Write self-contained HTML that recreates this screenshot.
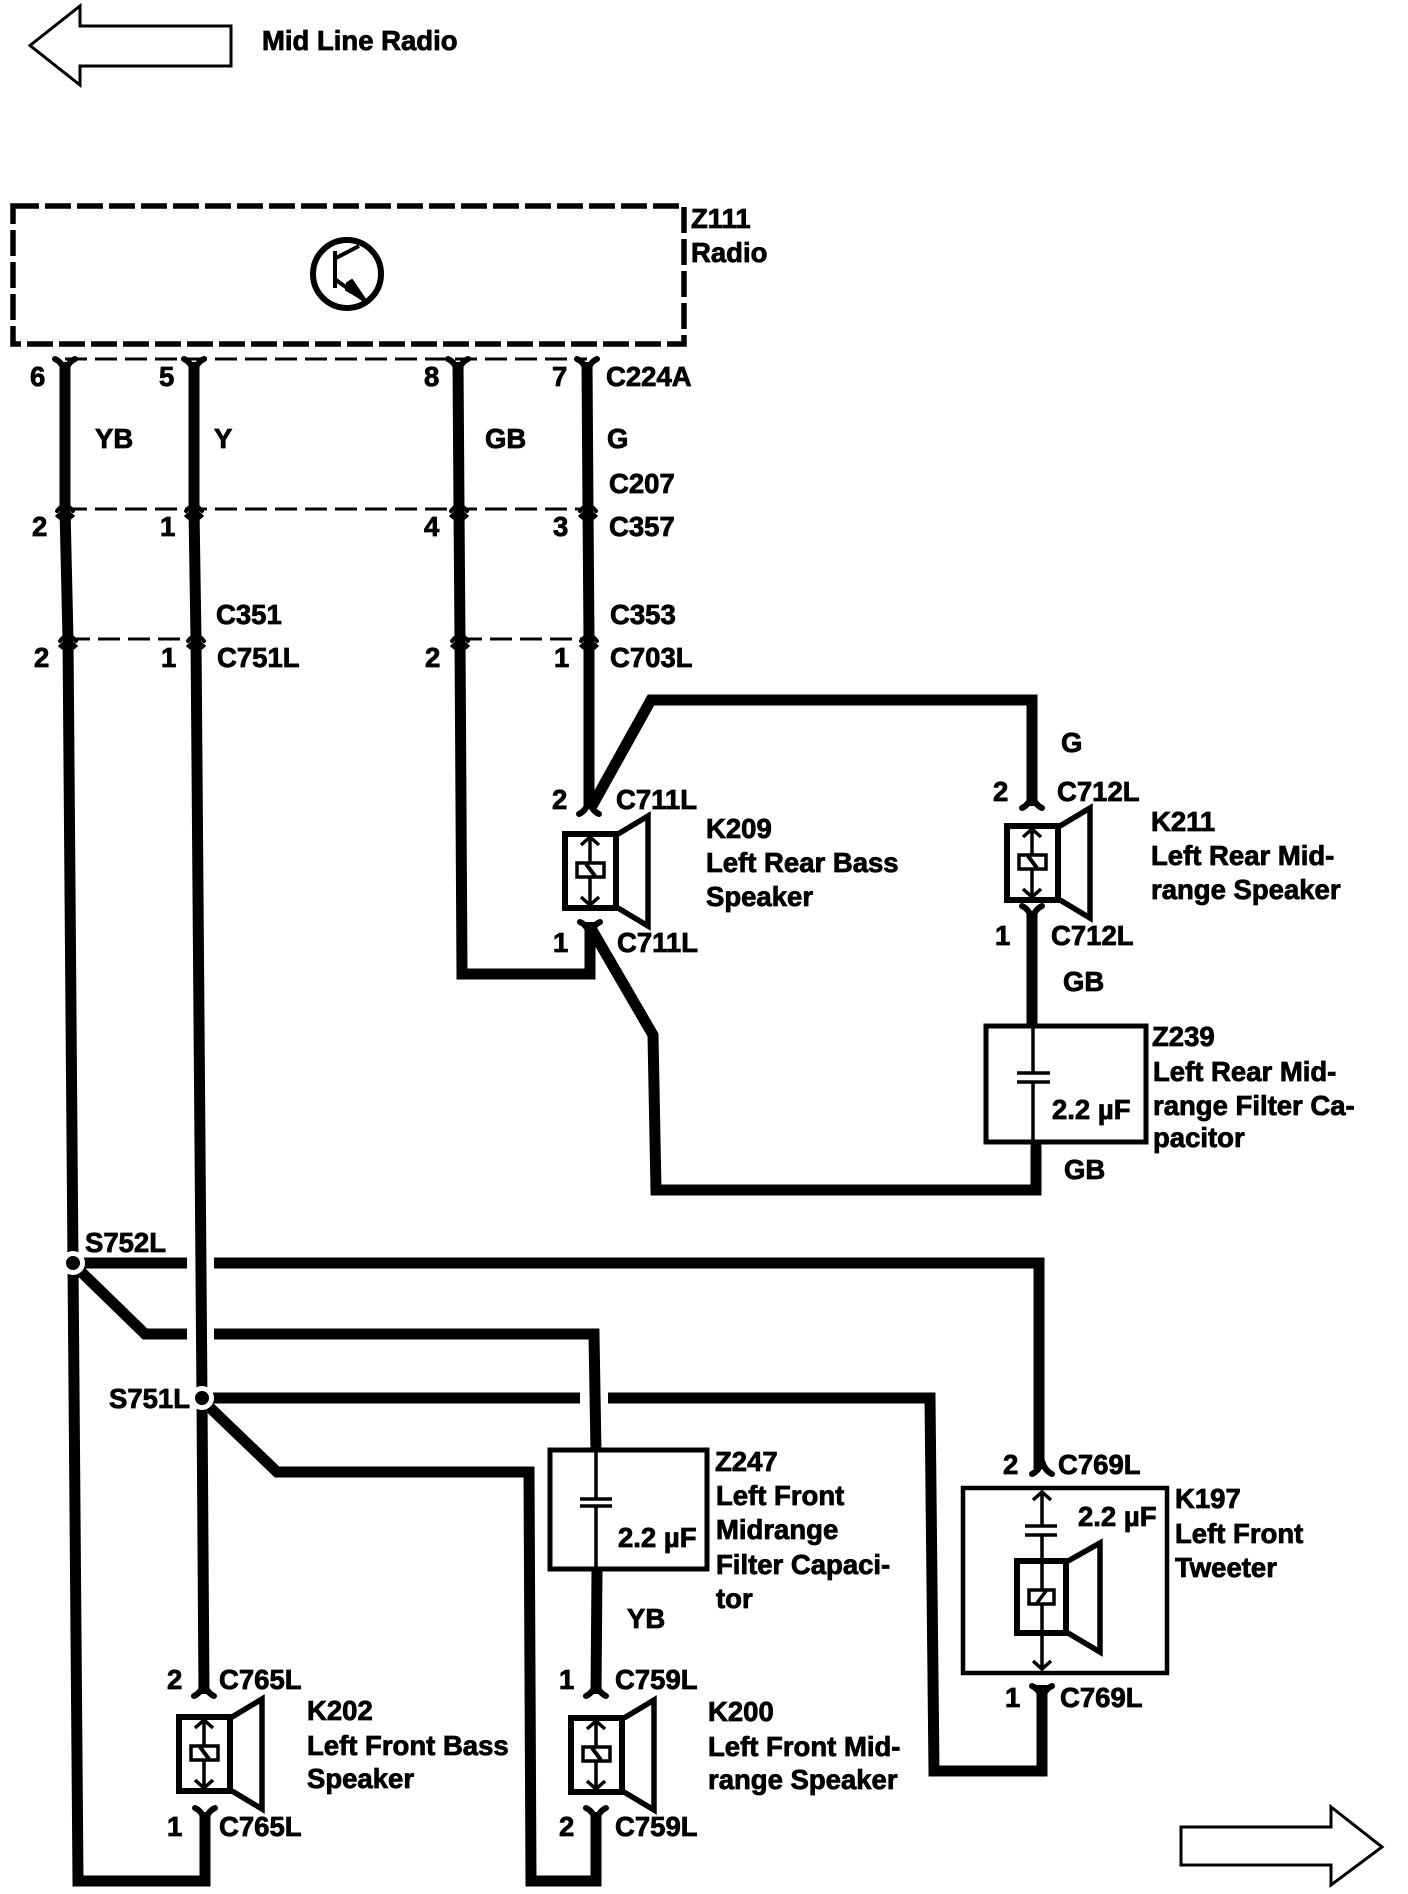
<!DOCTYPE html>
<html><head><meta charset="utf-8"><style>
html,body{margin:0;padding:0;background:#fff}
svg{display:block}
text{font-family:"Liberation Sans",sans-serif;font-weight:bold;font-size:27.5px;fill:#000;stroke:#000;stroke-width:.8}
.w{fill:none;stroke:#000;stroke-width:11;stroke-linejoin:miter}
.o{fill:none;stroke:#000;stroke-width:4}
.t{fill:none;stroke:#000;stroke-width:3.5}
.f{fill:none;stroke:#000;stroke-width:6;stroke-linejoin:round;stroke-linecap:round}
</style></head><body>
<svg xmlns="http://www.w3.org/2000/svg" width="1408" height="1894" viewBox="0 0 1408 1894">
<defs>
<path id="fy" class="f" d="M-10,-4 Q-3,-1 0,9 Q3,-1 10,-4"/>
<path id="fa" class="f" d="M-10,4 Q-3,1 0,-9 Q3,1 10,4"/>
<g id="cn"><path d="M-8,2 Q0,-9 8,2" fill="#000" stroke="#000" stroke-width="4" stroke-linecap="round"/><path d="M-8,7 Q0,-1 8,7 Q0,15 -8,7 Z" fill="#000" stroke="#000" stroke-width="3"/></g>
<g id="sp">
<rect x="-25" y="0" width="51" height="74" fill="#fff" stroke="#000" stroke-width="6"/>
<path d="M28,0 L58,-18 L58,92 L28,74" fill="none" stroke="#000" stroke-width="5.5"/>
<path class="t" d="M0,3 V71 M-9,11 L0,3 L9,11 M-9,63 L0,71 L9,63"/>
<rect x="-13" y="29" width="27" height="14" fill="#fff" stroke="#000" stroke-width="3.5"/>
<path d="M-4,30 L5,42" fill="none" stroke="#000" stroke-width="4"/>
</g>
</defs>

<!-- arrows -->
<path d="M231,26 H80 V6 L30,45.5 L80,85 V66 H231 Z" fill="#fff" stroke="#000" stroke-width="3"/>
<path d="M1181,1827 H1331 V1807 L1382,1847 L1331,1885 V1865 H1181 Z" fill="#fff" stroke="#000" stroke-width="3"/>

<!-- radio -->
<rect x="13" y="206" width="671" height="138" fill="none" stroke="#000" stroke-width="5.5" stroke-dasharray="26 6"/>
<circle cx="347" cy="274" r="34" fill="none" stroke="#000" stroke-width="6"/>
<path d="M335,251 V288 M336,258 L359,246 M336,280 L364,300" fill="none" stroke="#000" stroke-width="4"/>
<path d="M347,283 L352,280 L367,302 L346,290 Z" stroke="#000" stroke-width="2"/>

<!-- dashed connector lines -->
<path d="M65,359 H587 M65,509 H587" fill="none" stroke="#000" stroke-width="3" stroke-dasharray="22 8"/>
<path d="M68,639 H196 M460,639 H589" fill="none" stroke="#000" stroke-width="3" stroke-dasharray="22 8"/>

<!-- wires -->
<path class="w" d="M65,362 V509 L68,639 L73,1264 L78,1881 H205 V1812"/>
<path class="w" d="M194,362 V509 L196,639 L202,1400 L204,1694"/>
<path class="w" d="M458,362 L459,509 L460,639 L462,974 H590 V922"/>
<path class="w" d="M587,362 L588,509 L589,639 V806"/>
<path class="w" d="M592,806 L651,700 H1032 V806"/>
<path class="w" d="M592,930 L653,1035 L656,1190 H1036 V1142"/>
<path class="w" d="M1032,914 V1028"/>
<path class="w" d="M73,1263 H187 M214,1263 H1039 V1469"/>
<path class="w" d="M73,1264 L145,1334 H187 M214,1334 H594 L596,1452"/>
<path class="w" d="M597,1570 L596,1694"/>
<path class="w" d="M202,1398 H580 M608,1398 H930 L934,1771 H1042 V1685"/>
<path class="w" d="M202,1400 L277,1472 H529 L531,1881 H596 V1812"/>

<!-- connector forks -->
<use href="#fy" x="65" y="363"/><use href="#fy" x="194" y="363"/><use href="#fy" x="458" y="363"/><use href="#fy" x="587" y="363"/>
<use href="#cn" x="65" y="509"/><use href="#cn" x="194" y="509"/><use href="#cn" x="459" y="509"/><use href="#cn" x="588" y="509"/>
<use href="#cn" x="68" y="639"/><use href="#cn" x="196" y="639"/><use href="#cn" x="460" y="639"/><use href="#cn" x="589" y="639"/>
<use href="#fa" x="589" y="810"/><use href="#fa" x="1032" y="804"/>
<use href="#fy" x="590" y="926"/><use href="#fy" x="1032" y="910"/>
<use href="#fa" x="204" y="1692"/><use href="#fa" x="596" y="1692"/>
<use href="#fy" x="205" y="1812"/><use href="#fy" x="596" y="1812"/>
<use href="#fa" x="1042" y="1470"/><use href="#fy" x="1042" y="1690"/>

<!-- splices -->
<circle cx="73" cy="1263" r="12" fill="#fff"/><circle cx="73" cy="1263" r="7"/>
<circle cx="202" cy="1398" r="12" fill="#fff"/><circle cx="202" cy="1398" r="7"/>

<!-- speakers -->
<use href="#sp" x="590" y="834"/>
<use href="#sp" x="1032" y="826"/>
<use href="#sp" x="204" y="1717"/>
<use href="#sp" x="596" y="1718"/>

<!-- Z239 -->
<rect x="986" y="1026" width="160" height="116" fill="none" stroke="#000" stroke-width="5"/>
<path class="t" d="M1033,1026 V1073 M1033,1082 V1142 M1017,1073 H1050 M1017,1082 H1050"/>
<!-- Z247 -->
<rect x="550" y="1450" width="157" height="119" fill="none" stroke="#000" stroke-width="5"/>
<path class="t" d="M596,1450 V1499 M596,1506 V1569 M580,1499 H612 M580,1506 H612"/>
<!-- K197 -->
<rect x="963" y="1488" width="204" height="185" fill="none" stroke="#000" stroke-width="4.5"/>
<path class="t" d="M1042,1492 V1526 M1042,1535 V1669 M1033,1500 L1042,1492 L1051,1500 M1033,1661 L1042,1669 L1051,1661 M1025,1526 H1057 M1025,1535 H1057"/>
<rect x="1017" y="1561" width="49" height="72" fill="none" stroke="#000" stroke-width="6"/>
<path d="M1068,1561 L1100,1543 L1100,1652 L1068,1633" fill="none" stroke="#000" stroke-width="5.5"/>
<rect x="1029" y="1590" width="25" height="14" fill="#fff" stroke="#000" stroke-width="3.5"/>
<path d="M1037,1603 L1046,1591" fill="none" stroke="#000" stroke-width="3.5"/>

<!-- labels -->
<text x="262" y="50">Mid Line Radio</text>
<text x="691" y="228">Z111</text><text x="691" y="262">Radio</text>
<text x="30" y="386">6</text><text x="159" y="386">5</text><text x="424" y="386">8</text><text x="552" y="386">7</text><text x="606" y="386">C224A</text>
<text x="95" y="448">YB</text><text x="214" y="448">Y</text><text x="485" y="448">GB</text><text x="607" y="448">G</text>
<text x="609" y="493">C207</text>
<text x="32" y="536">2</text><text x="160" y="536">1</text><text x="424" y="536">4</text><text x="553" y="536">3</text><text x="609" y="536">C357</text>
<text x="216" y="624">C351</text><text x="610" y="624">C353</text>
<text x="34" y="667">2</text><text x="161" y="667">1</text><text x="425" y="667">2</text><text x="554" y="667">1</text><text x="217" y="667">C751L</text><text x="610" y="667">C703L</text>

<text x="1061" y="752">G</text>
<text x="993" y="801">2</text><text x="1057" y="801">C712L</text>
<text x="1151" y="831">K211</text><text x="1151" y="865">Left Rear Mid-</text><text x="1151" y="899">range Speaker</text>
<text x="995" y="945">1</text><text x="1051" y="945">C712L</text>
<text x="1063" y="991">GB</text>
<text x="1152" y="1046">Z239</text><text x="1153" y="1081">Left Rear Mid-</text><text x="1153" y="1115">range Filter Ca-</text><text x="1153" y="1147">pacitor</text>
<text x="1052" y="1119">2.2 µF</text>
<text x="1064" y="1179">GB</text>

<text x="552" y="809">2</text><text x="616" y="809">C711L</text>
<text x="706" y="838">K209</text><text x="706" y="872">Left Rear Bass</text><text x="706" y="906">Speaker</text>
<text x="553" y="952">1</text><text x="617" y="952">C711L</text>

<text x="85" y="1252">S752L</text>
<text x="109" y="1408">S751L</text>

<text x="715" y="1471">Z247</text><text x="716" y="1505">Left Front</text><text x="716" y="1539">Midrange</text><text x="716" y="1574">Filter Capaci-</text><text x="716" y="1608">tor</text>
<text x="618" y="1547">2.2 µF</text>
<text x="627" y="1628">YB</text>

<text x="167" y="1689">2</text><text x="219" y="1689">C765L</text>
<text x="307" y="1720">K202</text><text x="307" y="1755">Left Front Bass</text><text x="307" y="1788">Speaker</text>
<text x="167" y="1836">1</text><text x="219" y="1836">C765L</text>

<text x="559" y="1689">1</text><text x="615" y="1689">C759L</text>
<text x="559" y="1836">2</text><text x="615" y="1836">C759L</text>
<text x="708" y="1721">K200</text><text x="708" y="1756">Left Front Mid-</text><text x="708" y="1789">range Speaker</text>

<text x="1003" y="1474">2</text><text x="1058" y="1474">C769L</text>
<text x="1078" y="1526">2.2 µF</text>
<text x="1175" y="1508">K197</text><text x="1175" y="1543">Left Front</text><text x="1175" y="1577">Tweeter</text>
<text x="1005" y="1707">1</text><text x="1060" y="1707">C769L</text>
</svg>
</body></html>
